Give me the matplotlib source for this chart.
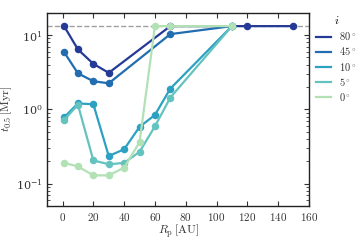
import numpy as np
import matplotlib
matplotlib.use('Agg')
from matplotlib import pyplot as plt
from matplotlib.ticker import FuncFormatter
from matplotlib.lines import Line2D

plt.rcParams['mathtext.fontset'] = 'cm'
plt.rcParams['font.family'] = 'serif'
plt.rcParams['font.serif'] = ['DejaVu Serif']

# Data
t_max = 13.2  # Myr, end of simulation
incl = ['80', '45', '10', '5', '0']
r_80 = [1, 10, 20, 30, 70, 110, 120, 150]
t_80 = [13.2, 6.4, 4.1, 3.1, 13.2, 13.2, 13.2, 13.2]
r_45 = [1, 10, 20, 30, 70, 110]
t_45 = [5.9, 3.05, 2.39, 2.24, 10.3, 13.2]
r_10 = [1, 10, 20, 30, 40, 50, 60, 70, 110]
t_10 = [0.78, 1.2, 1.17, 0.235, 0.29, 0.58, 0.84, 1.9, 13.2]
r_5 = [1, 10, 20, 30, 40, 50, 60, 70, 110]
t_5 = [0.72, 1.15, 0.205, 0.182, 0.19, 0.267, 0.59, 1.44, 13.2]
r_0 = [1, 10, 20, 30, 40, 50, 60, 70, 110]
t_0 = [0.19, 0.17, 0.129, 0.129, 0.164, 0.36, 13.2, 13.2, 13.2]

rs = [r_80, r_45, r_10, r_5, r_0]
ts = [t_80, t_45, t_10, t_5, t_0]
colors = plt.cm.YlGnBu(np.arange(6, 1, -1) / 7.0)

fig = plt.figure(figsize=(3.6, 2.4), dpi=100)
ax = fig.add_axes([0.131, 0.142, 0.727, 0.805])

ax.axhline(t_max, color='#a0a0a0', ls='--', lw=1.0, zorder=1)
handles = []
for r, t, c, lab in zip(rs, ts, colors, incl):
    ax.plot(r, t, '-o', color=c, lw=1.6, ms=4.4)
    handles.append(Line2D([], [], color=c, lw=1.6, label=r'$%s^\circ$' % lab))

ax.set_yscale('log')
ax.set_xlim(-10, 160)
ax.set_ylim(0.05, 20)
ax.set_xticks(np.arange(0, 161, 20))
ax.xaxis.set_major_formatter(FuncFormatter(lambda v, p: r'$%d$' % v))
ax.tick_params(which='both', direction='in', top=True, right=True,
               labelsize=8, colors='#333333', labelcolor='#333333')
ax.tick_params(which='major', length=3.5, width=0.8)
ax.tick_params(which='minor', length=2, width=0.6)
ax.tick_params(axis='x', which='minor', bottom=False, top=False)
for s in ax.spines.values():
    s.set_color('#222222')
    s.set_linewidth(1.0)

ax.set_xlabel(r'$R_\mathrm{p}\,[\mathrm{AU}]$', fontsize=8.5, color='#333333', labelpad=0)
ax.set_ylabel(r'$t_{0.5}\,[\mathrm{Myr}]$', fontsize=8.5, color='#333333', labelpad=1)

leg = ax.legend(handles=handles, loc='upper left', bbox_to_anchor=(1.0, 1.03),
                frameon=False, title=r'$i$', fontsize=7.5, title_fontsize=8.5,
                handlelength=1.4, labelspacing=0.3, handletextpad=0.8,
                borderaxespad=0.3)
for txt in leg.get_texts():
    txt.set_color('#333333')

plt.savefig('out.png', dpi=100)
